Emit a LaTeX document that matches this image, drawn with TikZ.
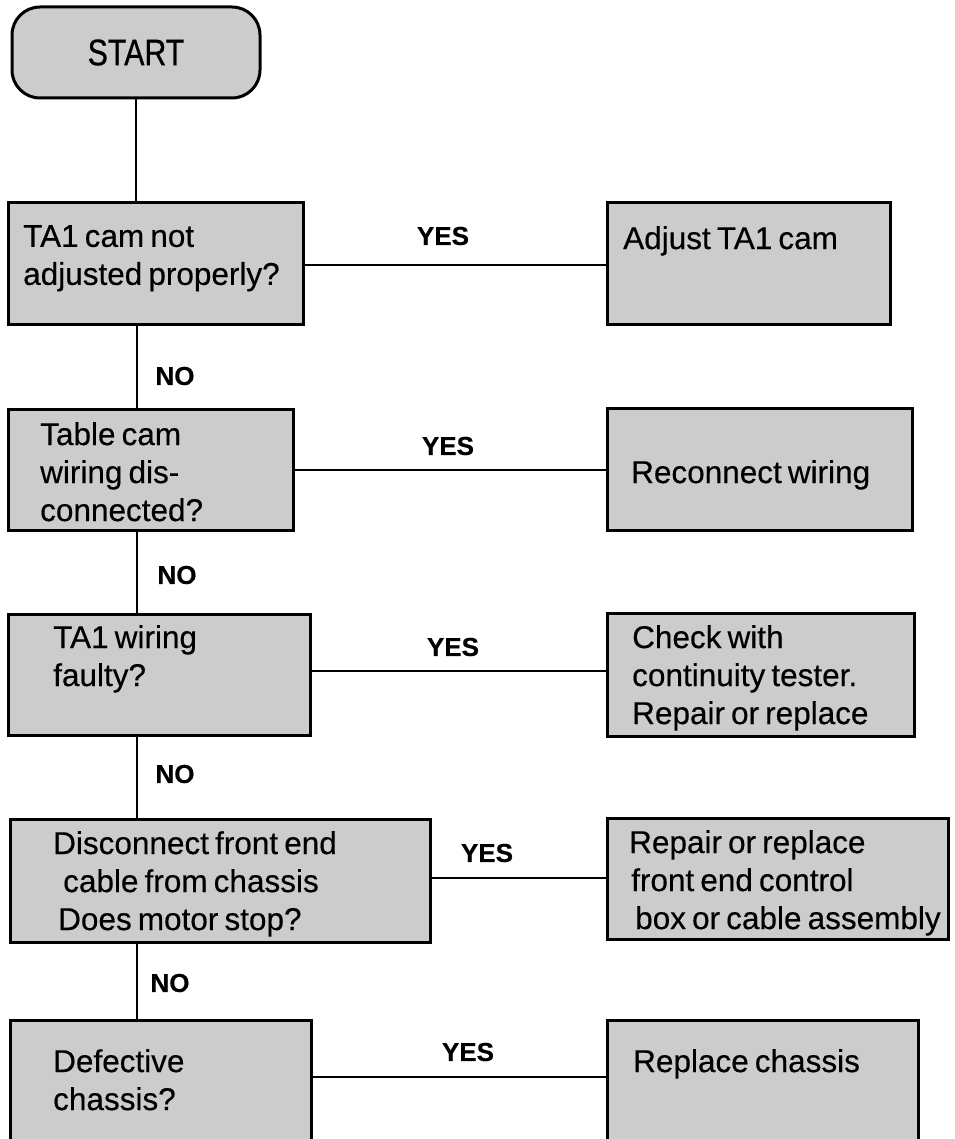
\documentclass[tikz,border=0pt]{standalone}
\usepackage{fontspec}
\setmainfont{Liberation Sans}[WordSpace=0.7, FakeBold=0.4]
\newfontfamily\startfont{Liberation Sans}[FakeStretch=0.82, FakeBold=0.6]
\usetikzlibrary{positioning}

\tikzset{
  box/.style={draw, line width=3pt, fill=black!20, anchor=north west,
              inner sep=0pt, outer sep=0pt},
  txt/.style={anchor=north west, inner sep=0pt, align=left,
              font=\fontsize{31.5}{38}\selectfont},
  yesno/.style={inner sep=0pt, font=\fontsize{26}{30}\selectfont\bfseries},
  wire/.style={line width=2pt},
}

\begin{document}
\begin{tikzpicture}[x=1pt,y=-1pt]
\useasboundingbox (0,0) rectangle (954,1139);

% terminal
\node[box, rounded corners=28pt, minimum width=248pt, minimum height=91pt,
      font=\startfont\fontsize{37}{40}\selectfont] (start) at (12,7) {START};

% question boxes (left) and remedies (right)
\node[box, minimum width=295pt, minimum height=121pt] (q1) at (8,203) {};
\node[box, minimum width=283pt, minimum height=121pt] (a1) at (607,203) {};
\node[box, minimum width=285pt, minimum height=121pt] (q2) at (8,409) {};
\node[box, minimum width=305pt, minimum height=122pt] (a2) at (607,408) {};
\node[box, minimum width=302pt, minimum height=121pt] (q3) at (8,614) {};
\node[box, minimum width=307pt, minimum height=123pt] (a3) at (607,613) {};
\node[box, minimum width=420pt, minimum height=123pt] (q4) at (10,819) {};
\node[box, minimum width=341pt, minimum height=121pt] (a4) at (607,818) {};
\node[box, minimum width=301pt, minimum height=140pt] (q5) at (10,1020) {};
\node[box, minimum width=311pt, minimum height=140pt] (a5) at (607,1020) {};

% box texts
\node[txt] (q1t) at ([shift={(15,22)}]q1.north west) {TA1 cam not\\adjusted properly?};
\node[txt] (a1t) at ([shift={(16,23)}]a1.north west) {Adjust TA1 cam};
\node[txt] (q2t) at ([shift={(32,13)}]q2.north west) {Table cam\\wiring dis-\\connected?};
\node[txt] (a2t) at ([shift={(24,52)}]a2.north west) {Reconnect wiring};
\node[txt] (q3t) at ([shift={(45,11)}]q3.north west) {TA1 wiring\\faulty?};
\node[txt] (a3t) at ([shift={(25,12)}]a3.north west) {Check with\\continuity tester.\\Repair or replace};
\node[txt] (q4t) at ([shift={(43,12)}]q4.north west)
  {Disconnect front end\\\hspace*{10pt}cable from chassis\\\hspace*{5pt}Does motor stop?};
\node[txt] (a4t) at ([shift={(22,12)}]a4.north west)
  {Repair or replace\\\hspace*{2pt}front end control\\\hspace*{6pt}box or cable assembly};
\node[txt] (q5t) at ([shift={(43,29)}]q5.north west) {Defective\\chassis?};
\node[txt] (a5t) at ([shift={(26,29)}]a5.north west) {Replace chassis};

% answers
\node[yesno] (yes1) at (443,236) {YES};
\node[yesno] (yes2) at (448,446) {YES};
\node[yesno] (yes3) at (453,647) {YES};
\node[yesno] (yes4) at (487,853) {YES};
\node[yesno] (yes5) at (468,1052) {YES};
\node[yesno] (no1) at (175,376) {NO};
\node[yesno] (no2) at (177,575) {NO};
\node[yesno] (no3) at (175,774) {NO};
\node[yesno] (no4) at (170,983) {NO};

% main stem
\coordinate (stem) at (137,0);
\draw[wire] (start.south) -- (start.south |- q1.north);
\draw[wire] (stem |- q1.south) -- (stem |- q2.north);
\draw[wire] (stem |- q2.south) -- (stem |- q3.north);
\draw[wire] (stem |- q3.south) -- (stem |- q4.north);
\draw[wire] (stem |- q4.south) -- (stem |- q5.north);

% yes branches
\draw[wire] ([yshift=-2pt]q1.east) -- ([yshift=-2pt]q1.east -| a1.west);
\draw[wire] (q2.east) -- (q2.east -| a2.west);
\draw[wire] ([yshift=4pt]q3.east) -- ([yshift=4pt]q3.east -| a3.west);
\draw[wire] ([yshift=3pt]q4.east) -- ([yshift=3pt]q4.east -| a4.west);
\draw[wire] ([yshift=13pt]q5.east) -- ([yshift=13pt]q5.east -| a5.west);
\end{tikzpicture}
\end{document}
